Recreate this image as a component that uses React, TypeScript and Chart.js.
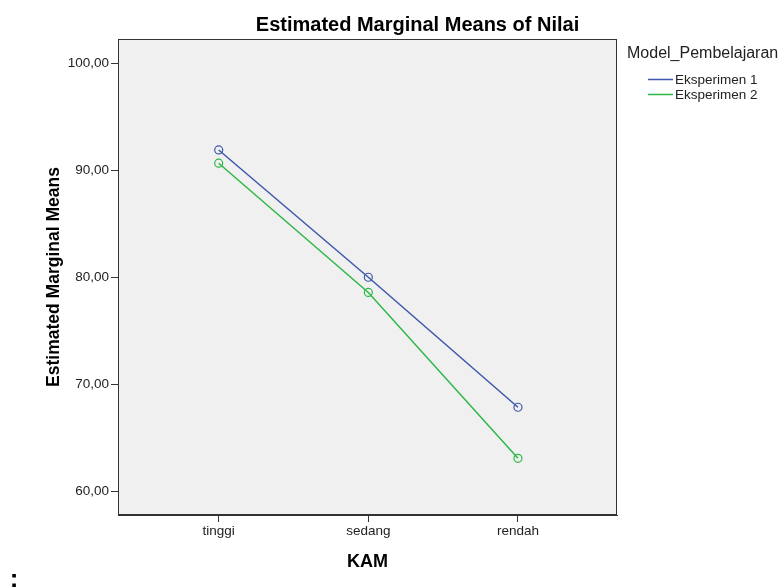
import React, { useEffect, useRef } from 'react';
import { Chart, registerables } from 'chart.js';

Chart.register(...registerables);

const categories = ['tinggi', 'sedang', 'rendah'];
const eksperimen1 = [91.9, 80.0, 67.85];
const eksperimen2 = [90.66, 78.58, 63.08];
const yTickValues = [60, 70, 80, 90, 100];
const seriesNames = ['Eksperimen 1', 'Eksperimen 2'];
const seriesColors = ['#3E58AC', '#2EB848'];
const chartTitle = 'Estimated Marginal Means of Nilai';
const yTitle = 'Estimated Marginal Means';
const xTitle = 'KAM';
const legendTitle = 'Model_Pembelajaran';

const FONT = '"Liberation Sans", Arial, sans-serif';

const textPlugin = {
  id: 'spssText',
  beforeDraw(chart: any) {
    const { ctx, chartArea } = chart;
    ctx.save();
    ctx.fillStyle = '#f0f0f0';
    ctx.fillRect(chartArea.left, chartArea.top, chartArea.right - chartArea.left, chartArea.bottom - chartArea.top);
    ctx.restore();
  },
  afterDraw(chart: any) {
    const { ctx, chartArea } = chart;
    ctx.save();
    // plot frame
    ctx.strokeStyle = '#333';
    ctx.lineWidth = 1;
    ctx.strokeRect(chartArea.left + 0.5, chartArea.top + 0.5, chartArea.right - chartArea.left - 1, chartArea.bottom - chartArea.top - 1);

    ctx.fillStyle = '#000';
    // title
    ctx.font = `bold 20px ${FONT}`;
    ctx.textAlign = 'center';
    ctx.textBaseline = 'alphabetic';
    ctx.fillText(chartTitle, 417.5, 31);

    // x title
    ctx.font = `bold 18px ${FONT}`;
    ctx.fillText(xTitle, (chartArea.left + chartArea.right) / 2, 567);

    // y title
    ctx.save();
    ctx.translate(59, (chartArea.top + chartArea.bottom) / 2);
    ctx.rotate(-Math.PI / 2);
    ctx.font = `bold 17.5px ${FONT}`;
    ctx.textAlign = 'center';
    ctx.fillText(yTitle, 0, 0);
    ctx.restore();

    // legend
    ctx.textAlign = 'left';
    ctx.fillStyle = '#222';
    ctx.font = `16px ${FONT}`;
    ctx.fillText(legendTitle, 627, 58);
    ctx.font = `13.5px ${FONT}`;
    chart.data.datasets.forEach((ds: any, i: number) => {
      const y = 79 + i * 15;
      ctx.strokeStyle = ds.borderColor;
      ctx.lineWidth = 1.5;
      ctx.beginPath();
      ctx.moveTo(648, y + 0.5);
      ctx.lineTo(673, y + 0.5);
      ctx.stroke();
      ctx.fillStyle = '#222';
      ctx.fillText(ds.label, 675, y + 5);
    });

    // stray colon at bottom-left
    ctx.fillStyle = '#000';
    ctx.font = `bold 26px ${FONT}`;
    ctx.textAlign = 'center';
    ctx.fillText(':', 14, 587);
    ctx.restore();
  },
};

export default function App() {
  const ref = useRef<HTMLCanvasElement | null>(null);

  useEffect(() => {
    if (!ref.current) return;
    const chart = new Chart(ref.current, {
      type: 'line',
      data: {
        datasets: [eksperimen1, eksperimen2].map((vals, i) => ({
          label: seriesNames[i],
          data: vals.map((v, j) => ({ x: j, y: v })),
          borderColor: seriesColors[i],
          backgroundColor: 'transparent',
          borderWidth: 1.5,
          pointRadius: 4,
          pointBorderWidth: 1.2,
          pointBackgroundColor: 'transparent',
          pointBorderColor: seriesColors[i],
          tension: 0,
          fill: false,
        })),
      },
      options: {
        responsive: false,
        animation: false,
        devicePixelRatio: 1,
        layout: { padding: { left: 0, top: 39, right: 165, bottom: 0 } },
        plugins: {
          legend: { display: false },
          tooltip: { enabled: false },
          title: { display: false },
        },
        scales: {
          x: {
            type: 'linear',
            min: -0.673,
            max: 2.662,
            afterFit(scale: any) { scale.height = 72; },
            afterBuildTicks(scale: any) { scale.ticks = categories.map((_, i) => ({ value: i })); },
            ticks: {
              color: '#222',
              font: { family: FONT, size: 13.5 },
              padding: 1,
              maxRotation: 0,
              autoSkip: false,
              callback: (v: any) => categories[v as number] ?? '',
            },
            grid: { drawOnChartArea: false, drawTicks: true, tickLength: 7, color: '#333' },
            border: { display: true, color: '#333' },
          },
          y: {
            type: 'linear',
            min: 57.78,
            max: 102.27,
            afterFit(scale: any) { scale.width = 118; },
            afterBuildTicks(scale: any) { scale.ticks = yTickValues.map((v) => ({ value: v })); },
            ticks: {
              color: '#222',
              font: { family: FONT, size: 13.5 },
              padding: 2,
              callback: (v: any) => Number(v).toFixed(2).replace('.', ','),
            },
            grid: { drawOnChartArea: false, drawTicks: true, tickLength: 7, color: '#333' },
            border: { display: true, color: '#333' },
          },
        },
      },
      plugins: [textPlugin],
    });
    return () => chart.destroy();
  }, []);

  return (
    <div style={{ position: 'fixed', left: 0, top: 0, width: 782, height: 587, background: '#fff' }}>
      <canvas ref={ref} width={782} height={587} style={{ width: 782, height: 587, display: 'block' }} />
    </div>
  );
}
